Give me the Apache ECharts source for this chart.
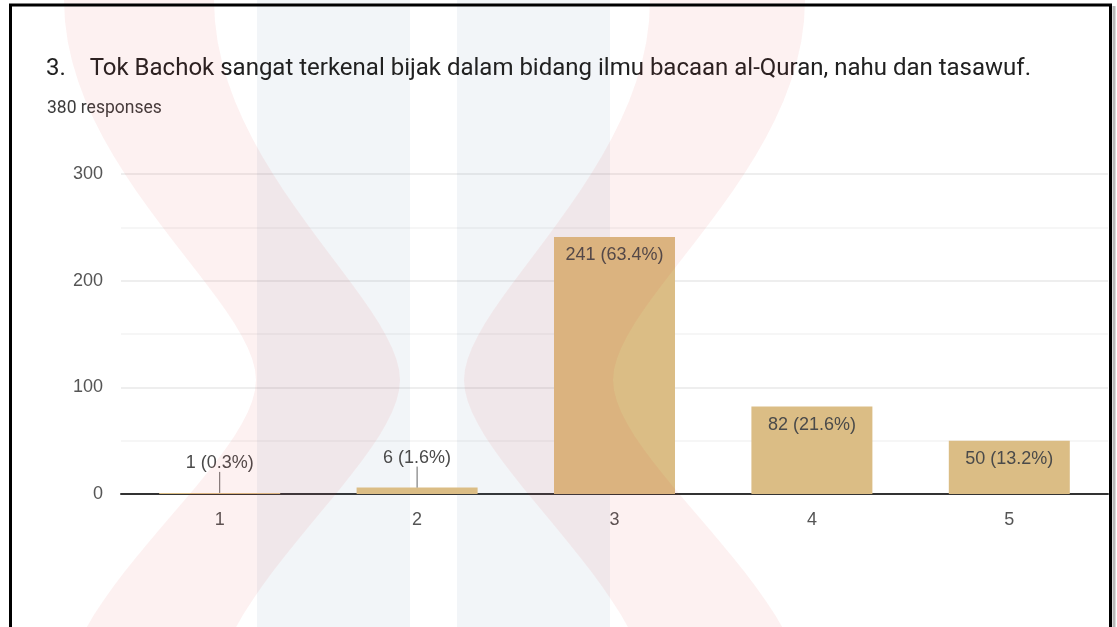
<!DOCTYPE html>
<html>
<head>
<meta charset="utf-8">
<script src="https://cdn.jsdelivr.net/npm/echarts@6/dist/echarts.min.js"></script>
<style>
  html, body { margin: 0; padding: 0; background: #fff; }
  #chart { width: 1117px; height: 627px; }
</style>
</head>
<body>
<div id="chart"></div>
<script>
// survey answers (scale 1-5)
var categories = ['1', '2', '3', '4', '5']
var counts = [1, 6, 241, 82, 50]
var percents = ['0.3%', '1.6%', '63.4%', '21.6%', '13.2%']
var yTicks = [0, 100, 200, 300]
var titleText = '3.    Tok Bachok sangat terkenal bijak dalam bidang ilmu bacaan al-Quran, nahu dan tasawuf.'
var subText = '380 responses'

var barColor = '#dbbd85'
var labelColor = '#4a4a4a'
var smallLimit = 20 // bars lower than this get their label above with a leader line

var chart = echarts.init(document.getElementById('chart'), null, { renderer: 'canvas' })

var barData = counts.map(function (v) {
  var small = v < smallLimit
  return {
    value: v,
    label: {
      position: small ? 'top' : 'insideTop',
      distance: small ? 21 : 9
    }
  }
})

var leaderData = []
counts.forEach(function (v, i) {
  if (v < smallLimit) leaderData.push([i, v])
})

// faint background logo (watermark), sampled from two curved bands
function bez(p0, p1, p2, p3, n) {
  var pts = []
  for (var i = 0; i <= n; i++) {
    var t = i / n, u = 1 - t
    pts.push([
      u * u * u * p0[0] + 3 * u * u * t * p1[0] + 3 * u * t * t * p2[0] + t * t * t * p3[0],
      u * u * u * p0[1] + 3 * u * u * t * p1[1] + 3 * u * t * t * p2[1] + t * t * t * p3[1]
    ])
  }
  return pts
}
function band(a, b, tipA, tipB) {
  var down = bez([b, 0], [b, 170], [tipB, 300], [tipB, 380], 24)
    .concat(bez([tipB, 380], [tipB, 460], [b, 590], [b, 700], 24))
  var up = bez([a, 700], [a, 590], [tipA, 460], [tipA, 380], 24)
    .concat(bez([tipA, 380], [tipA, 300], [a, 170], [a, 0], 24))
  return down.concat(up)
}

var pink = 'rgba(230,45,45,0.065)'
var blue = 'rgba(75,125,165,0.075)'
var watermark = [
  { type: 'rect', z: 1, shape: { x: 257, y: 0, width: 153, height: 627 }, style: { fill: blue } },
  { type: 'rect', z: 1, shape: { x: 457, y: 0, width: 153, height: 627 }, style: { fill: blue } },
  { type: 'polygon', z: 100, shape: { points: band(64, 214, 256, 400) }, style: { fill: pink } },
  { type: 'polygon', z: 100, shape: { points: band(805, 650, 613, 464) }, style: { fill: pink } }
].map(function (g) {
  g.silent = true
  return g
})

var frame = [
  { type: 'line', shape: { x1: 10.5, y1: 5, x2: 10.5, y2: 627 }, style: { stroke: '#000', lineWidth: 3 } },
  { type: 'line', shape: { x1: 9, y1: 5, x2: 1112, y2: 5 }, style: { stroke: '#000', lineWidth: 3 } },
  { type: 'line', shape: { x1: 1110.5, y1: 5, x2: 1110.5, y2: 627 }, style: { stroke: '#000', lineWidth: 3 } },
  { type: 'line', shape: { x1: 1114, y1: 6, x2: 1114, y2: 627 }, style: { stroke: '#b8b8b8', lineWidth: 3 } }
].map(function (g) {
  g.silent = true
  g.z = 110
  return g
})

chart.setOption({
  animation: false,
  backgroundColor: '#fff',
  title: [
    {
      text: titleText,
      left: 46,
      top: 57,
      padding: 0,
      textStyle: { fontFamily: 'Roboto', fontSize: 24, fontWeight: 'normal', color: '#212121' }
    },
    {
      text: subText,
      left: 47,
      top: 100,
      padding: 0,
      textStyle: { fontFamily: 'Roboto', fontSize: 17.5, fontWeight: 'normal', color: '#3c3c3c' }
    }
  ],
  grid: {
    left: 121,
    right: 9,
    top: 174,
    bottom: 133,
    containLabel: false
  },
  xAxis: {
    type: 'category',
    data: categories,
    axisLine: { lineStyle: { color: '#333', width: 2 } },
    axisTick: { show: false },
    axisLabel: {
      margin: 17,
      color: '#555',
      fontFamily: 'Liberation Sans',
      fontSize: 18
    }
  },
  yAxis: {
    type: 'value',
    min: yTicks[0],
    max: yTicks[yTicks.length - 1],
    interval: 100,
    axisLine: { show: false },
    axisTick: { show: false },
    axisLabel: {
      margin: 18,
      color: '#555',
      fontFamily: 'Liberation Sans',
      fontSize: 18
    },
    splitLine: { lineStyle: { color: '#e8e8e8', width: 1.5 } },
    minorTick: { show: false, splitNumber: 2 },
    minorSplitLine: { show: true, lineStyle: { color: '#f3f3f3', width: 1.5 } }
  },
  series: [
    {
      type: 'bar',
      data: barData,
      barWidth: 121,
      z: 3,
      itemStyle: { color: barColor },
      label: {
        show: true,
        color: labelColor,
        fontFamily: 'Liberation Sans',
        fontSize: 18,
        formatter: function (p) {
          return counts[p.dataIndex] + ' (' + percents[p.dataIndex] + ')'
        }
      }
    },
    {
      // leader lines from the tiny bars up to their labels
      type: 'custom',
      data: leaderData,
      silent: true,
      z: 5,
      renderItem: function (params, api) {
        var p = api.coord([api.value(0), api.value(1)])
        return {
          type: 'line',
          shape: { x1: p[0], y1: p[1], x2: p[0], y2: p[1] - 21 },
          style: { stroke: '#666', lineWidth: 1 }
        }
      }
    }
  ],
  graphic: watermark.concat(frame)
})
</script>
</body>
</html>
